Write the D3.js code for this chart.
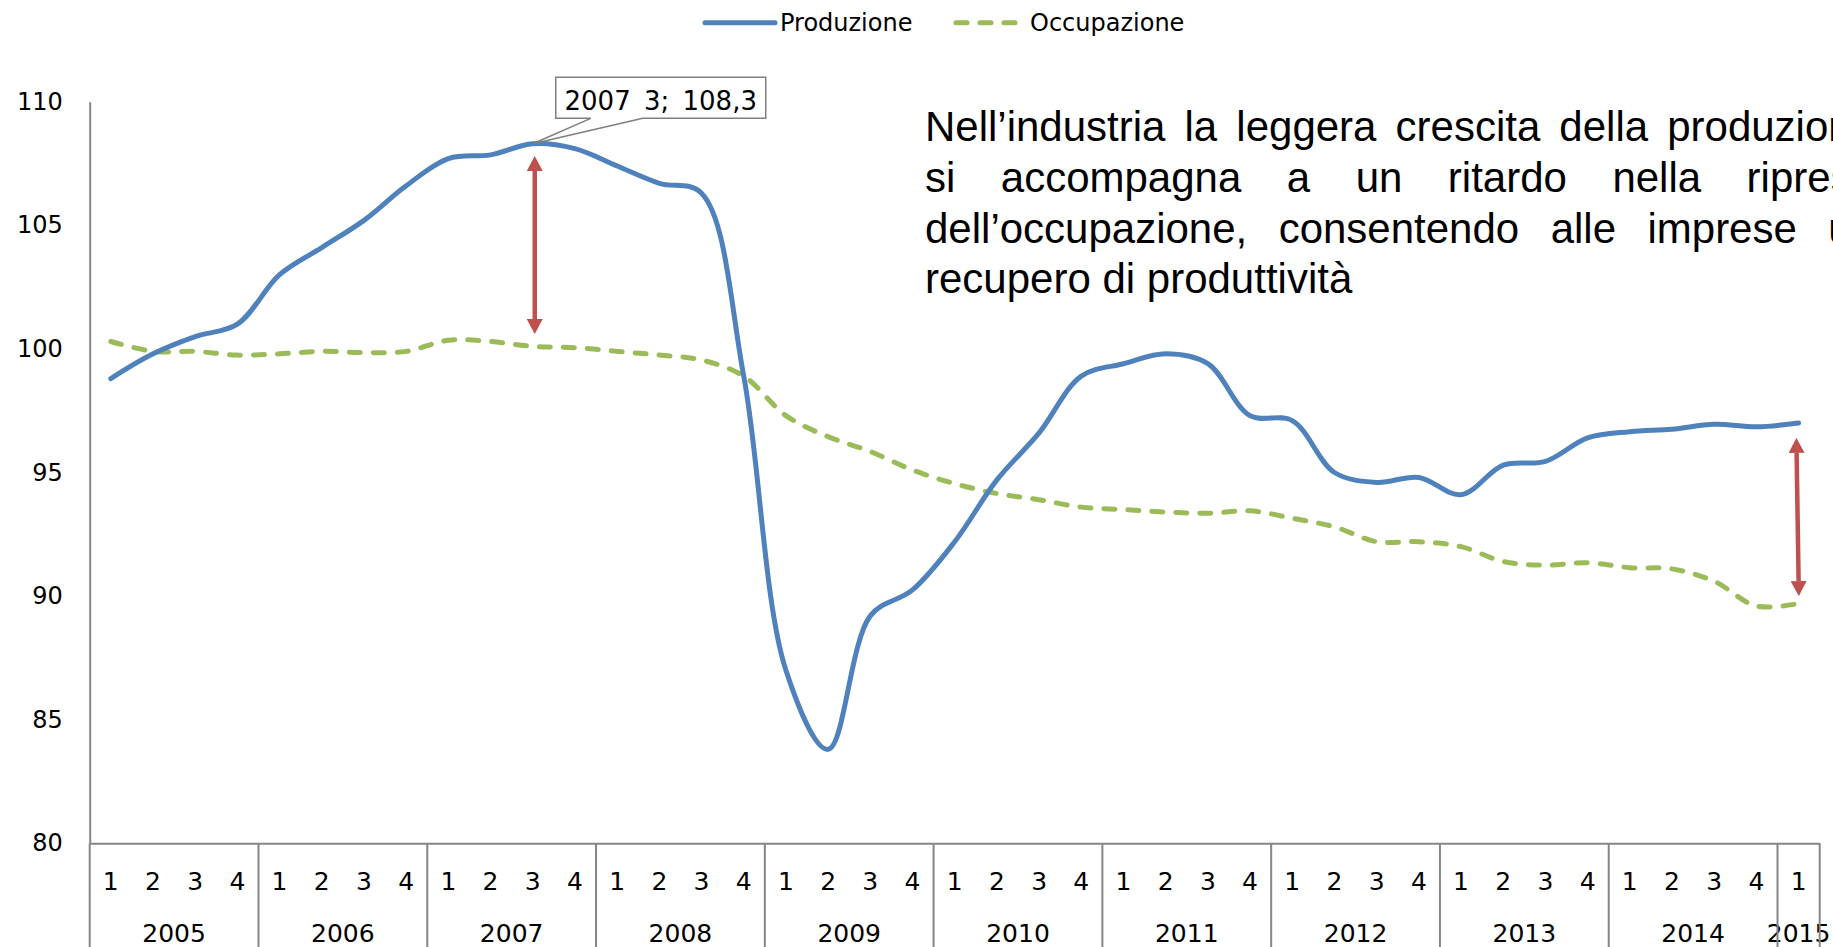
<!DOCTYPE html>
<html>
<head>
<meta charset="utf-8">
<script src="https://cdn.jsdelivr.net/npm/d3@7"></script>
<style>
  body { margin: 0; background: #fff; overflow: hidden; }
</style>
</head>
<body>
<svg id="chart"></svg>
<script>
var w = 1833;
var h = 947;

// categories
var years = ["2005", "2006", "2007", "2008", "2009", "2010", "2011", "2012", "2013", "2014", "2015"];
var quarterLabels = ["1", "2", "3", "4"];
var yTicks = [80, 85, 90, 95, 100, 105, 110];
var seriesNames = ["Produzione", "Occupazione"];

// series (2005 Q1 .. 2015 Q1)
var produzione = [98.8, 99.8, 100.5, 101.0, 103.0, 104.1, 105.2, 106.6, 107.7, 107.85,
  108.3, 108.1, 107.4, 106.7, 106.3, 98.9, 87.0, 83.8, 89.2, 90.25,
  92.2, 94.7, 96.6, 98.9, 99.4, 99.8, 99.4, 97.3, 97.1, 95.0,
  94.6, 94.8, 94.1, 95.3, 95.45, 96.4, 96.65, 96.75, 96.95, 96.85,
  97.0];
var occupazione = [100.3, 99.9, 99.9, 99.75, 99.8, 99.9, 99.85, 99.9, 100.35, 100.3,
  100.1, 100.05, 99.9, 99.75, 99.55, 98.9, 97.3, 96.45, 95.85, 95.1,
  94.55, 94.15, 93.9, 93.6, 93.5, 93.4, 93.35, 93.45, 93.15, 92.8,
  92.2, 92.2, 92.0, 91.4, 91.25, 91.35, 91.15, 91.1, 90.6, 89.6,
  89.7];

// annotations
var calloutIndex = 10;
var calloutLabel = "2007 3; 108,3";
var arrowIndex = [10, 40];
var arrowTop = [107.8, 96.4];
var arrowBottom = [100.6, 90.0];

var noteLines = [
  "Nell\u2019industria la leggera crescita della produzione",
  "si accompagna a un ritardo nella ripresa",
  "dell\u2019occupazione, consentendo alle imprese un",
  "recupero di produttivit\u00e0"
];

var colors = ["#4F81BD", "#9BBB59"];
var axisColor = "#868686";
var smallFont = "'DejaVu Sans', Verdana, sans-serif";

var svg = d3.select('#chart')
  .attr('width', w)
  .attr('height', h);

var n = produzione.length;

var x = d3.scaleBand()
  .domain(d3.range(n))
  .range([89.7, 1819.7]);

var y = d3.scaleLinear()
  .domain([80, 110])
  .range([843.3, 101.7]);

var bw = x.bandwidth();
function cx(i) { return x(i) + bw / 2; }

// y axis
var yAxis = svg.append("g")
  .attr("transform", "translate(" + x.range()[0] + ",0)")
  .call(d3.axisLeft(y).tickValues(yTicks).tickSize(0).tickSizeOuter(0).tickPadding(27).tickFormat(d3.format("d")));
yAxis.select(".domain").attr("stroke", axisColor).attr("stroke-width", 2);
yAxis.selectAll("text")
  .attr("font-family", smallFont)
  .attr("font-size", 24)
  .attr("fill", "#000");

// x axis, quarters
var xAxis = svg.append("g")
  .attr("transform", "translate(0," + y(80) + ")")
  .call(d3.axisBottom(x).tickSize(0).tickSizeOuter(0).tickPadding(0)
    .tickFormat(function (i) { return quarterLabels[i % 4]; }));
xAxis.select(".domain").attr("stroke", axisColor).attr("stroke-width", 2);
xAxis.selectAll("text")
  .attr("font-family", smallFont)
  .attr("font-size", 25)
  .attr("fill", "#000")
  .attr("dy", null)
  .attr("y", 47);

// year labels and separators
var yearGroups = years.map(function (yr, k) {
  return { year: yr, start: k * 4, count: Math.min(4, n - k * 4) };
});

svg.append("g").selectAll("text")
  .data(yearGroups)
  .enter().append("text")
  .attr("x", function (d) { return x(d.start) + d.count * bw / 2; })
  .attr("y", 941.7)
  .attr("text-anchor", "middle")
  .attr("font-family", smallFont)
  .attr("font-size", 25)
  .attr("fill", "#000")
  .text(function (d) { return d.year; });

var sepX = yearGroups.map(function (d) { return x(d.start); }).concat([x.range()[1]]);
svg.append("g").selectAll("line")
  .data(sepX)
  .enter().append("line")
  .attr("x1", function (d) { return d; })
  .attr("x2", function (d) { return d; })
  .attr("y1", y(80))
  .attr("y2", h)
  .attr("stroke", axisColor)
  .attr("stroke-width", 2);

// lines
var line = d3.line()
  .x(function (d, i) { return cx(i); })
  .y(function (d) { return y(d); })
  .curve(d3.curveCatmullRom.alpha(0.5));

svg.append("path")
  .datum(occupazione)
  .attr("d", line)
  .attr("fill", "none")
  .attr("stroke", colors[1])
  .attr("stroke-width", 5)
  .attr("stroke-dasharray", "11,13")
  .attr("stroke-linecap", "round");

svg.append("path")
  .datum(produzione)
  .attr("d", line)
  .attr("fill", "none")
  .attr("stroke", colors[0])
  .attr("stroke-width", 5)
  .attr("stroke-linejoin", "round")
  .attr("stroke-linecap", "round");

// legend
var legendX = [705, 956];
var legendW = [70, 62];
var legend = svg.append("g").selectAll("g")
  .data(seriesNames)
  .enter().append("g");
legend.append("line")
  .attr("x1", function (d, i) { return legendX[i]; })
  .attr("x2", function (d, i) { return legendX[i] + legendW[i]; })
  .attr("y1", 22.7)
  .attr("y2", 22.7)
  .attr("stroke", function (d, i) { return colors[i]; })
  .attr("stroke-width", 5)
  .attr("stroke-linecap", "round")
  .attr("stroke-dasharray", function (d, i) { return i === 1 ? "11,13" : null; });
legend.append("text")
  .attr("x", function (d, i) { return legendX[i] + legendW[i] + (i === 0 ? 5 : 12); })
  .attr("y", 31)
  .attr("font-family", smallFont)
  .attr("font-size", 24)
  .attr("fill", "#000")
  .text(function (d) { return d; });

// callout on the peak
var px = cx(calloutIndex), py = y(produzione[calloutIndex]);
var bl = px + 23, bt = py - 66.4, br = px + 233, bb = py - 25.4;
svg.append("path")
  .attr("d", "M" + bl + "," + bt + "H" + br + "V" + bb + "H" + (px + 110) +
    "L" + px + "," + py + "L" + (px + 58) + "," + bb + "H" + bl + "Z")
  .attr("fill", "#fff")
  .attr("stroke", "#7f7f7f")
  .attr("stroke-width", 1.5);
svg.append("text")
  .attr("x", (bl + br) / 2)
  .attr("y", bb - 8.5)
  .attr("text-anchor", "middle")
  .attr("font-family", smallFont)
  .attr("font-size", 26)
  .attr("word-spacing", 5)
  .attr("fill", "#000")
  .text(calloutLabel);

// red double arrows
var defs = svg.append("defs");
defs.append("marker")
  .attr("id", "head")
  .attr("viewBox", "0 0 15 16")
  .attr("refX", 0)
  .attr("refY", 8)
  .attr("markerWidth", 15)
  .attr("markerHeight", 16)
  .attr("markerUnits", "userSpaceOnUse")
  .attr("orient", "auto-start-reverse")
  .append("path")
  .attr("d", "M0,0L15,8L0,16Z")
  .attr("fill", "#C0504D");

var arrowDx = [[2, 2], [-2, 0]];
svg.append("g").selectAll("line")
  .data(arrowIndex)
  .enter().append("line")
  .attr("x1", function (d, k) { return cx(d) + arrowDx[k][0]; })
  .attr("x2", function (d, k) { return cx(d) + arrowDx[k][1]; })
  .attr("y1", function (d, k) { return y(arrowTop[k]) + 15; })
  .attr("y2", function (d, k) { return y(arrowBottom[k]) - 15; })
  .attr("stroke", "#C0504D")
  .attr("stroke-width", 4.5)
  .attr("marker-start", "url(#head)")
  .attr("marker-end", "url(#head)");

// note text, justified
var noteX = 925, noteW = 950, noteY = 140.7, noteLead = 50.9;
var note = svg.append("g")
  .attr("font-family", "'Liberation Sans', Arial, sans-serif")
  .attr("font-size", 42)
  .attr("fill", "#000");

noteLines.forEach(function (txt, li) {
  var words = txt.split(" ");
  var nodes = words.map(function (wd) {
    return note.append("text").attr("y", noteY + li * noteLead).text(wd);
  });
  var widths = nodes.map(function (s) { return s.node().getComputedTextLength(); });
  var gap = li < noteLines.length - 1 ? (noteW - d3.sum(widths)) / (words.length - 1) : 42 * 0.278;
  var xx = noteX;
  nodes.forEach(function (s, k) {
    s.attr("x", xx);
    xx += widths[k] + gap;
  });
});
</script>
</body>
</html>
